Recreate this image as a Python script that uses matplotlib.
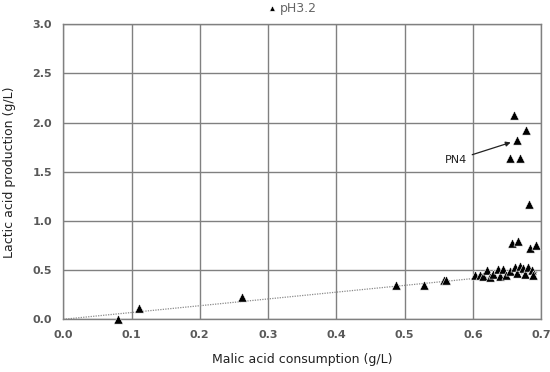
import matplotlib
matplotlib.use("Agg")
import matplotlib.pyplot as plt
import numpy as np

# Data: malic acid consumption (g/L) vs lactic acid production (g/L), pH3.2
malic = [0.080, 0.111, 0.262, 0.487, 0.528, 0.557, 0.561,
         0.603, 0.610, 0.615, 0.621, 0.625, 0.630, 0.636, 0.639, 0.644,
         0.649, 0.654, 0.661, 0.664, 0.669, 0.674, 0.677, 0.681, 0.686, 0.688,
         0.657, 0.666, 0.684, 0.692,
         0.682, 0.655, 0.669, 0.665, 0.678, 0.660]
lactic = [0.00, 0.11, 0.23, 0.35, 0.345, 0.40, 0.40,
          0.45, 0.45, 0.44, 0.50, 0.43, 0.46, 0.51, 0.44, 0.51,
          0.45, 0.49, 0.53, 0.47, 0.54, 0.52, 0.46, 0.53, 0.50, 0.45,
          0.78, 0.80, 0.72, 0.76,
          1.17, 1.64, 1.64, 1.82, 1.92, 2.08]
series_label = "pH3.2"
trend_slope = 0.69
trend_range = [0.0, 0.695]
annot_label = "PN4"
annot_point = (0.665, 1.82)
x_ticks = [0.0, 0.1, 0.2, 0.3, 0.4, 0.5, 0.6, 0.7]
y_ticks = [0.0, 0.5, 1.0, 1.5, 2.0, 2.5, 3.0]

fig = plt.figure(figsize=(5.5, 3.72), dpi=100)
ax = fig.add_axes([0.115, 0.1417, 0.869, 0.793])

grid_col = "#808080"
ax.set_xlim(0, 0.7)
ax.set_ylim(0, 3.0)
ax.set_xticks(x_ticks)
ax.set_yticks(y_ticks)
ax.set_xticklabels([f"{v:.1f}" for v in x_ticks])
ax.set_yticklabels([f"{v:.1f}" for v in y_ticks])
ax.grid(True, color=grid_col, linewidth=1.0)
ax.set_axisbelow(True)
for s in ax.spines.values():
    s.set_color(grid_col)
    s.set_linewidth(1.0)
ax.tick_params(length=0, pad=8, labelsize=8, labelcolor="#595959")
for lab in ax.get_xticklabels() + ax.get_yticklabels():
    lab.set_fontweight("bold")

tx = np.array(trend_range)
ax.plot(tx, trend_slope * tx, linestyle=(0, (1, 1)), color="#8a8a8a",
        linewidth=0.9, zorder=2)

ax.scatter(malic, lactic, marker="^", s=44, color="black",
           edgecolors="white", linewidths=0.4, zorder=3, clip_on=False,
           label=series_label)

ax.annotate(annot_label, xy=annot_point, xytext=(0.591, 1.62),
            ha="right", va="center", fontsize=8, color="#222222",
            arrowprops=dict(arrowstyle="-|>", color="#222222", lw=0.9,
                            mutation_scale=7, shrinkA=2, shrinkB=5))

ax.set_xlabel("Malic acid consumption (g/L)", fontsize=9, color="#222222", labelpad=9)
ax.set_ylabel("Lactic acid production (g/L)", fontsize=9, color="#222222", labelpad=12)

leg = fig.legend(loc="center", bbox_to_anchor=(0.53, 0.978), frameon=False,
                 fontsize=9, handletextpad=0.1, markerscale=0.6,
                 borderpad=0, handlelength=1.0)
for t in leg.get_texts():
    t.set_color("#666666")

fig.savefig("out.png", dpi=100)
